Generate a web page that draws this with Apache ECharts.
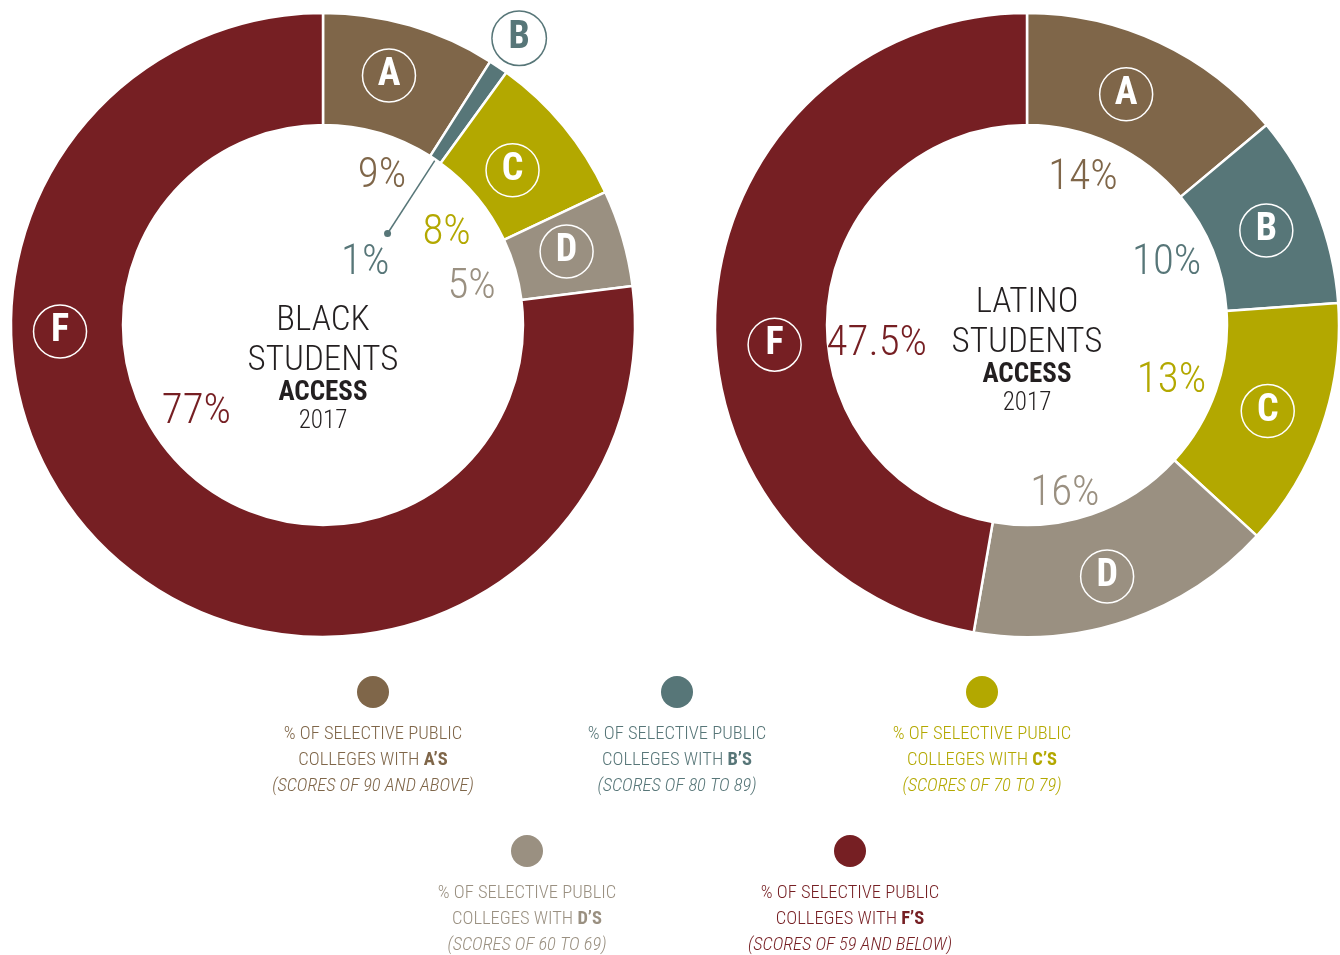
<!DOCTYPE html>
<html>
<head>
<meta charset="utf-8">
<script src="https://cdn.jsdelivr.net/npm/echarts@6/dist/echarts.min.js"></script>
<style>
  html, body { margin: 0; padding: 0; background: #fff; }
  #main { width: 1340px; height: 955px; }
</style>
</head>
<body>
<div id="main"></div>
<script>
// grades and shares
const grades = ['A', 'B', 'C', 'D', 'F'];
const blackShares = [9, 1, 8, 5, 77];
const latinoShares = [14, 10, 13, 16, 47.5];
const legendRanges = [
  '(SCORES OF 90 AND ABOVE)',
  '(SCORES OF 80 TO 89)',
  '(SCORES OF 70 TO 79)',
  '(SCORES OF 60 TO 69)',
  '(SCORES OF 59 AND BELOW)'
];
const colors = ['#7f6649', '#577678', '#b3a800', '#9a9081', '#761f23'];

const FONT = "'Roboto Condensed', 'Liberation Sans Narrow', 'Arial Narrow', 'DejaVu Sans Condensed', Roboto, sans-serif";
const R_IN = 200, R_OUT = 312;

// label placement tweaks (angle offset in degrees, radius in px)
const donuts = [
  {
    id: 'black', center: [323, 325], shares: blackShares, title: ['BLACK', 'STUDENTS'], titleY: 301,
    letter: [{ da: -1.5, r: 260 }, { r: 349, white: true }, { r: 246 }, { da: -1, r: 255 }, { angle: 269, r: 263 }],
    pct: [{ da: 5, r: 163 }, { da: -1, r: 77 }, { da: 2, r: 156 }, { da: 1, r: 154 }, { da: 15, r: 152 }]
  },
  {
    id: 'latino', center: [1027, 325], shares: latinoShares, title: ['LATINO', 'STUDENTS'], titleY: 283,
    letter: [{ da: -2, r: 253 }, { r: 258 }, { r: 255 }, { da: 1, r: 262 }, { angle: 266, r: 253 }],
    pct: [{ da: -4.6, r: 160 }, { da: -3, r: 154 }, { da: 1, r: 154 }, { da: 6, r: 171 }, { da: -11, r: 151 }]
  }
];

function midAngles(vals) {
  const total = vals.reduce((a, b) => a + b, 0);
  let acc = 0;
  return vals.map(v => { const m = (acc + v / 2) / total * 360; acc += v; return m; });
}
function polar(c, deg, r) {
  const t = deg * Math.PI / 180;
  return [c[0] + r * Math.sin(t), c[1] - r * Math.cos(t)];
}

let series = [];
let graphic = [];

donuts.forEach(function (d) {
  const mids = midAngles(d.shares);
  const data = d.shares.map((v, i) => ({
    name: grades[i], value: v,
    itemStyle: { color: colors[i] },
    label: d.letter[i].white ? {
      rich: { c: { color: colors[i], backgroundColor: '#fff', borderColor: colors[i] } }
    } : {}
  }));
  // ring with letter badges
  series.push({
    type: 'pie', name: d.id, center: d.center, radius: [R_IN, R_OUT],
    startAngle: 90, clockwise: true, silent: true, avoidLabelOverlap: false,
    itemStyle: { borderColor: '#fff', borderWidth: 2.5 },
    label: {
      show: true, position: 'inside',
      formatter: p => '{c|' + p.name + '}',
      rich: {
        c: {
          width: 53, height: 53, lineHeight: 56, borderRadius: 28, align: 'center',
          borderColor: '#fff', borderWidth: 1.5, color: '#fff',
          fontFamily: FONT, fontWeight: 'bold', fontSize: 38
        }
      }
    },
    labelLine: { show: false },
    labelLayout: function (p) {
      const o = d.letter[p.dataIndex];
      const ang = o.angle != null ? o.angle : mids[p.dataIndex] + (o.da || 0);
      const pt = polar(d.center, ang, o.r || 256);
      return { x: pt[0], y: pt[1] + 2, align: 'center', verticalAlign: 'middle' };
    },
    data: data
  });
  // invisible ring carrying percentage labels in the hole
  series.push({
    type: 'pie', name: d.id + '-pct', center: d.center, radius: [110, 200],
    startAngle: 90, clockwise: true, silent: true, avoidLabelOverlap: false,
    itemStyle: { color: 'rgba(0,0,0,0)', borderWidth: 0 },
    label: {
      show: true, position: 'inside',
      formatter: p => p.value + '%',
      fontFamily: FONT, fontWeight: 300, fontSize: 43
    },
    labelLine: { show: false },
    labelLayout: function (p) {
      const o = d.pct[p.dataIndex];
      const pt = polar(d.center, mids[p.dataIndex] + o.da, o.r);
      return { x: pt[0], y: pt[1] + 3, align: 'center', verticalAlign: 'middle' };
    },
    data: d.shares.map((v, i) => ({ name: grades[i], value: v, label: { color: colors[i] } }))
  });

  // centre title
  graphic.push({
    type: 'text', x: d.center[0], y: d.titleY,
    style: {
      text: d.title.join('\n') + '\n{b|ACCESS}\n{y|2017}',
      align: 'center', verticalAlign: 'top',
      font: '300 35px ' + FONT, fill: '#231f20', lineHeight: 40,
      rich: {
        b: { fontFamily: FONT, fontWeight: 'bold', fontSize: 27, lineHeight: 24, fill: '#231f20', align: 'center' },
        y: { fontFamily: FONT, fontWeight: 300, fontSize: 25, lineHeight: 34, fill: '#231f20', align: 'center' }
      }
    }
  });
});

// leader line for the 1% slice on the left donut
(function () {
  const d = donuts[0];
  const mids = midAngles(d.shares);
  const a = polar(d.center, mids[1], R_IN + 2);
  const b = polar(d.center, mids[1] + 1, 112);
  graphic.push({ type: 'line', shape: { x1: a[0], y1: a[1], x2: b[0], y2: b[1] }, style: { stroke: colors[1], lineWidth: 1.5 } });
  graphic.push({ type: 'circle', shape: { cx: b[0], cy: b[1], r: 3.5 }, style: { fill: colors[1] } });
})();

// legend
const legendPos = [[373, 692], [677, 692], [982, 692], [527, 851], [850, 851]];
grades.forEach(function (g, i) {
  const p = legendPos[i];
  graphic.push({ type: 'circle', shape: { cx: p[0], cy: p[1], r: 16 }, style: { fill: colors[i] } });
  graphic.push({
    type: 'text', x: p[0], y: p[1] + 29,
    style: {
      text: '% OF SELECTIVE PUBLIC\nCOLLEGES WITH {b|' + g + '’S}\n{i|' + legendRanges[i] + '}',
      align: 'center', font: '300 18.5px ' + FONT, fill: colors[i], lineHeight: 26,
      rich: {
        b: { fontFamily: FONT, fontWeight: 'bold', fontSize: 18.5, fill: colors[i] },
        i: { fontFamily: FONT, fontWeight: 300, fontStyle: 'italic', fontSize: 18.5, fill: colors[i] }
      }
    }
  });
});

const chart = echarts.init(document.getElementById('main'));
chart.setOption({
  backgroundColor: '#fff',
  animation: false,
  series: series,
  graphic: graphic
});
</script>
</body>
</html>
